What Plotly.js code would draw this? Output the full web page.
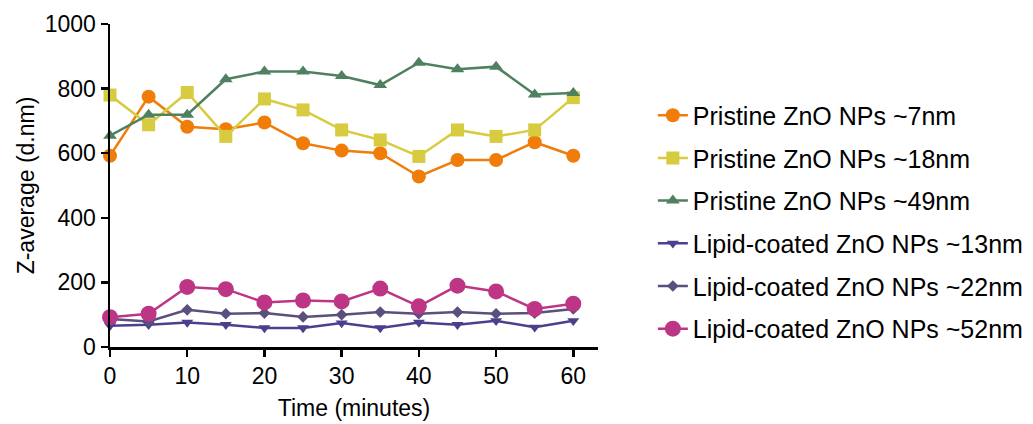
<!DOCTYPE html>
<html>
<head>
<meta charset="utf-8">
<script src="https://cdn.plot.ly/plotly-3.0.1.min.js"></script>
<style>html,body{margin:0;padding:0;background:#fff;}#chart{width:1033px;height:424px;}</style>
</head>
<body>
<div id="chart"></div>
<script>
const time = [0, 5, 10, 15, 20, 25, 30, 35, 40, 45, 50, 55, 60];
const seriesNames = [
  "Pristine ZnO NPs ~7nm",
  "Pristine ZnO NPs ~18nm",
  "Pristine ZnO NPs ~49nm",
  "Lipid-coated ZnO NPs ~13nm",
  "Lipid-coated ZnO NPs ~22nm",
  "Lipid-coated ZnO NPs ~52nm"
];
const pristine7 = [592, 775, 682, 674, 695, 631, 608, 600, 528, 579, 579, 634, 592];
const pristine18 = [780, 688, 788, 652, 768, 734, 672, 641, 590, 672, 652, 672, 772];
const pristine49 = [654, 719, 719, 829, 853, 853, 839, 811, 880, 860, 868, 782, 786];
const lipid13 = [66, 69, 76, 69, 59, 59, 74, 59, 76, 69, 81, 61, 81];
const lipid22 = [87, 79, 115, 103, 105, 93, 100, 108, 103, 108, 103, 105, 118];
const lipid52 = [92, 103, 186, 179, 138, 144, 141, 181, 126, 190, 172, 118, 134];
const yTicks = [0, 200, 400, 600, 800, 1000];
const xTicks = [0, 10, 20, 30, 40, 50, 60];

const values = [pristine7, pristine18, pristine49, lipid13, lipid22, lipid52];
const colors = ["#f07d0a", "#d7cb40", "#4f8060", "#4b3f8e", "#5b4f7e", "#bd3686"];
const symbols = ["circle", "square", "triangle-up", "triangle-down", "diamond", "circle"];
const sizes = [14, 13, 12, 10.5, 9, 16];

const traces = values.map((v, i) => ({
  x: time, y: v, name: seriesNames[i], type: "scatter", mode: "lines+markers",
  legendgroup: "g" + i,
  line: {color: colors[i], width: 2.5},
  marker: {color: colors[i], symbol: symbols[i], size: sizes[i]},
  cliponaxis: false
}));

const fam = "Liberation Sans, Arial, sans-serif";
const tickFont = {family: fam, size: 23, color: "#000"};
const titleFont = {family: fam, size: 23, color: "#000"};
const layout = {
  width: 1033, height: 424,
  margin: {l: 110, r: 435, t: 24, b: 77, pad: 0},
  paper_bgcolor: "#fff", plot_bgcolor: "#fff",
  font: tickFont,
  showlegend: true,
  legend: {x: 0.632, xref: "container", y: 0.782, yref: "container", yanchor: "top", xanchor: "left",
           font: {family: fam, size: 25, color: "#000"}, tracegroupgap: 7.2, itemwidth: 30, maxheight: 380},
  xaxis: {
    range: [0, 63.2], tickvals: xTicks, ticktext: xTicks.map(String),
    showline: true, linecolor: "#000", linewidth: 2.5, ticks: "outside", ticklen: 7, tickwidth: 2.5, tickcolor: "#000",
    showgrid: false, zeroline: false, tickfont: tickFont,
    title: {text: "Time (minutes)", font: titleFont, standoff: 12}, automargin: false
  },
  yaxis: {
    range: [0, 1000], tickvals: yTicks, ticktext: yTicks.map(String),
    showline: true, linecolor: "#000", linewidth: 2.5, ticks: "outside", ticklen: 7, tickwidth: 2.5, tickcolor: "#000",
    showgrid: false, zeroline: false, tickfont: tickFont,
    title: {text: "Z-average (d.nm)", font: titleFont, standoff: 4}, automargin: false
  }
};
Plotly.newPlot("chart", traces, layout, {displayModeBar: false, staticPlot: true});
</script>
</body>
</html>
